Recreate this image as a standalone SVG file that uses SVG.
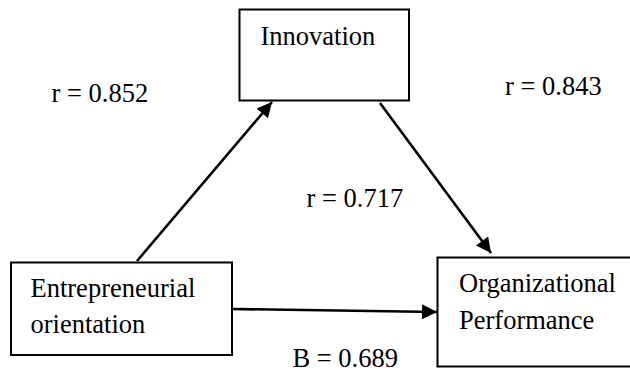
<svg xmlns="http://www.w3.org/2000/svg" width="630" height="374" viewBox="0 0 630 374">
  <style>
    .box { fill: #ffffff; stroke: #000000; stroke-width: 2; }
    .lbl { font-family: "Liberation Serif", "Times New Roman", serif; font-size: 26.5px; fill: #000000; }
    .edge { stroke: #000000; stroke-width: 2.6; fill: none; marker-end: url(#head); }
  </style>
  <defs>
    <marker id="head" viewBox="0 0 10 10" refX="10" refY="5" markerUnits="userSpaceOnUse" markerWidth="18" markerHeight="15" orient="auto">
      <path d="M0,0 L10,5 L0,10 z" fill="#000000"/>
    </marker>
  </defs>

  <rect width="630" height="374" fill="#ffffff"/>

  <g id="innovation">
    <rect class="box" x="239.5" y="9.5" width="169.5" height="91"/>
    <text class="lbl" x="260.5" y="45">Innovation</text>
  </g>

  <g id="entrepreneurial-orientation">
    <rect class="box" x="11" y="262.5" width="221" height="92.5"/>
    <text class="lbl" x="30.5" y="296.5">Entrepreneurial</text>
    <text class="lbl" x="30.5" y="333">orientation</text>
  </g>

  <g id="organizational-performance">
    <rect class="box" x="437.5" y="257.5" width="200" height="109"/>
    <text class="lbl" x="459" y="291.5">Organizational</text>
    <text class="lbl" x="459" y="329">Performance</text>
  </g>

  <g id="connectors">
    <line class="edge" x1="137" y1="261" x2="272" y2="102"/>
    <line class="edge" x1="380" y1="103" x2="491" y2="253"/>
    <line class="edge" x1="232" y1="309" x2="437" y2="312"/>
  </g>

  <g id="coefficients">
    <text class="lbl" x="51.5" y="101.5">r = 0.852</text>
    <text class="lbl" x="505" y="95">r = 0.843</text>
    <text class="lbl" x="306.5" y="206.5">r = 0.717</text>
    <text class="lbl" x="292.5" y="366.5">B = 0.689</text>
  </g>
</svg>
